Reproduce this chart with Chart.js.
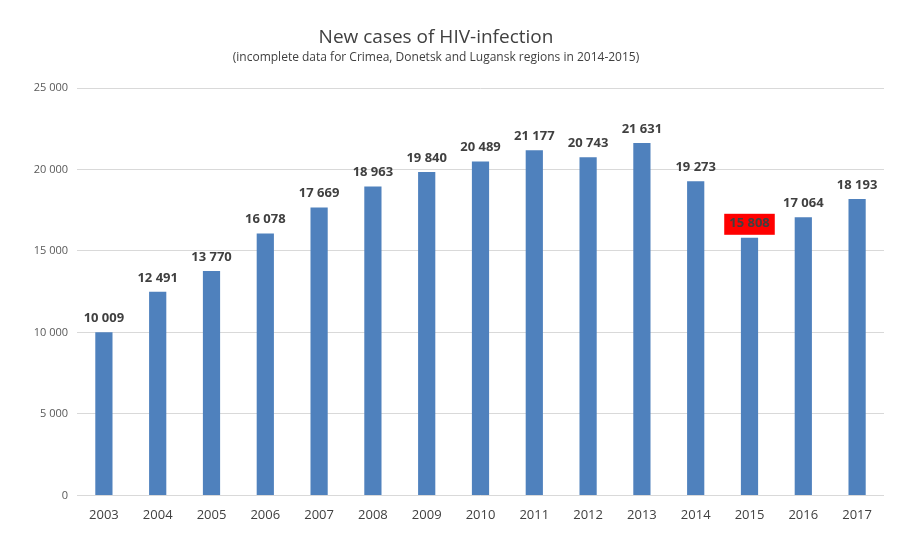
<!DOCTYPE html>
<html>
<head>
<meta charset="utf-8">
<script src="https://cdn.jsdelivr.net/npm/chart.js@4"></script>
<style>
  html, body { margin: 0; padding: 0; background: #fff; }
  #wrap { width: 914px; height: 558px; }
</style>
</head>
<body>
<div id="wrap"><canvas id="hiv" width="914" height="558"></canvas></div>
<script>
// data
const years = ['2003', '2004', '2005', '2006', '2007', '2008', '2009', '2010', '2011', '2012', '2013', '2014', '2015', '2016', '2017'];
const newCases = [10009, 12491, 13770, 16078, 17669, 18963, 19840, 20489, 21177, 20743, 21631, 19273, 15808, 17064, 18193];
const highlightYear = '2015';
const titleText = 'New cases of HIV-infection';
const subtitleText = '(incomplete data for Crimea, Donetsk and Lugansk regions in 2014-2015)';

const FONT = '"Open Sans", "Liberation Sans", sans-serif';

function fmt(n) {
    return String(n).replace(/\B(?=(\d{3})+(?!\d))/g, ' ');
}

// titles are drawn by hand, the original is centred a bit left of the canvas middle
const titles = {
    id: 'titles',
    afterDraw(chart) {
        const ctx = chart.ctx;
        const cx = 436;
        ctx.save();
        ctx.textAlign = 'center';
        ctx.textBaseline = 'middle';
        ctx.fillStyle = '#404040';
        ctx.font = '19px ' + FONT;
        ctx.fillText(titleText, cx, 38);
        ctx.font = '12px ' + FONT;
        ctx.fillText(subtitleText, cx, 58);
        ctx.restore();
    }
};

// value labels above bars (and red box for the highlighted year)
const barLabels = {
    id: 'barLabels',
    afterDatasetsDraw(chart) {
        const ctx = chart.ctx;
        const meta = chart.getDatasetMeta(0);
        ctx.save();
        ctx.font = 'bold 13px ' + FONT;
        ctx.textAlign = 'center';
        ctx.textBaseline = 'middle';
        meta.data.forEach((bar, i) => {
            const txt = fmt(newCases[i]);
            const y = bar.y - 14;
            if (years[i] === highlightYear) {
                const w = ctx.measureText(txt).width + 10;
                ctx.fillStyle = '#ff0000';
                ctx.fillRect(bar.x - w / 2, y - 10, w, 21);
            }
            ctx.fillStyle = '#404040';
            ctx.fillText(txt, bar.x, y);
        });
        ctx.restore();
    }
};

new Chart(document.getElementById('hiv').getContext('2d'), {
    type: 'bar',
    data: {
        labels: years,
        datasets: [{
            data: newCases,
            backgroundColor: '#4f81bd',
            barPercentage: 0.64,
            categoryPercentage: 0.5
        }]
    },
    options: {
        responsive: false,
        animation: false,
        layout: { padding: { left: 20, right: 30, top: 88, bottom: 31 } },
        plugins: {
            legend: { display: false },
            tooltip: { enabled: false },
            title: { display: false }
        },
        scales: {
            x: {
                grid: { display: false },
                border: { display: false },
                ticks: { color: '#404040', font: { family: FONT, size: 13 }, padding: 4 }
            },
            y: {
                min: 0,
                max: 25000,
                grid: { color: '#d9d9d9', drawTicks: false },
                border: { display: false },
                ticks: {
                    stepSize: 5000,
                    color: '#595959',
                    font: { family: FONT, size: 11 },
                    padding: 9,
                    callback: v => fmt(v)
                },
                afterFit(scale) { scale.width = 57; }
            }
        }
    },
    plugins: [barLabels, titles]
});
</script>
</body>
</html>
